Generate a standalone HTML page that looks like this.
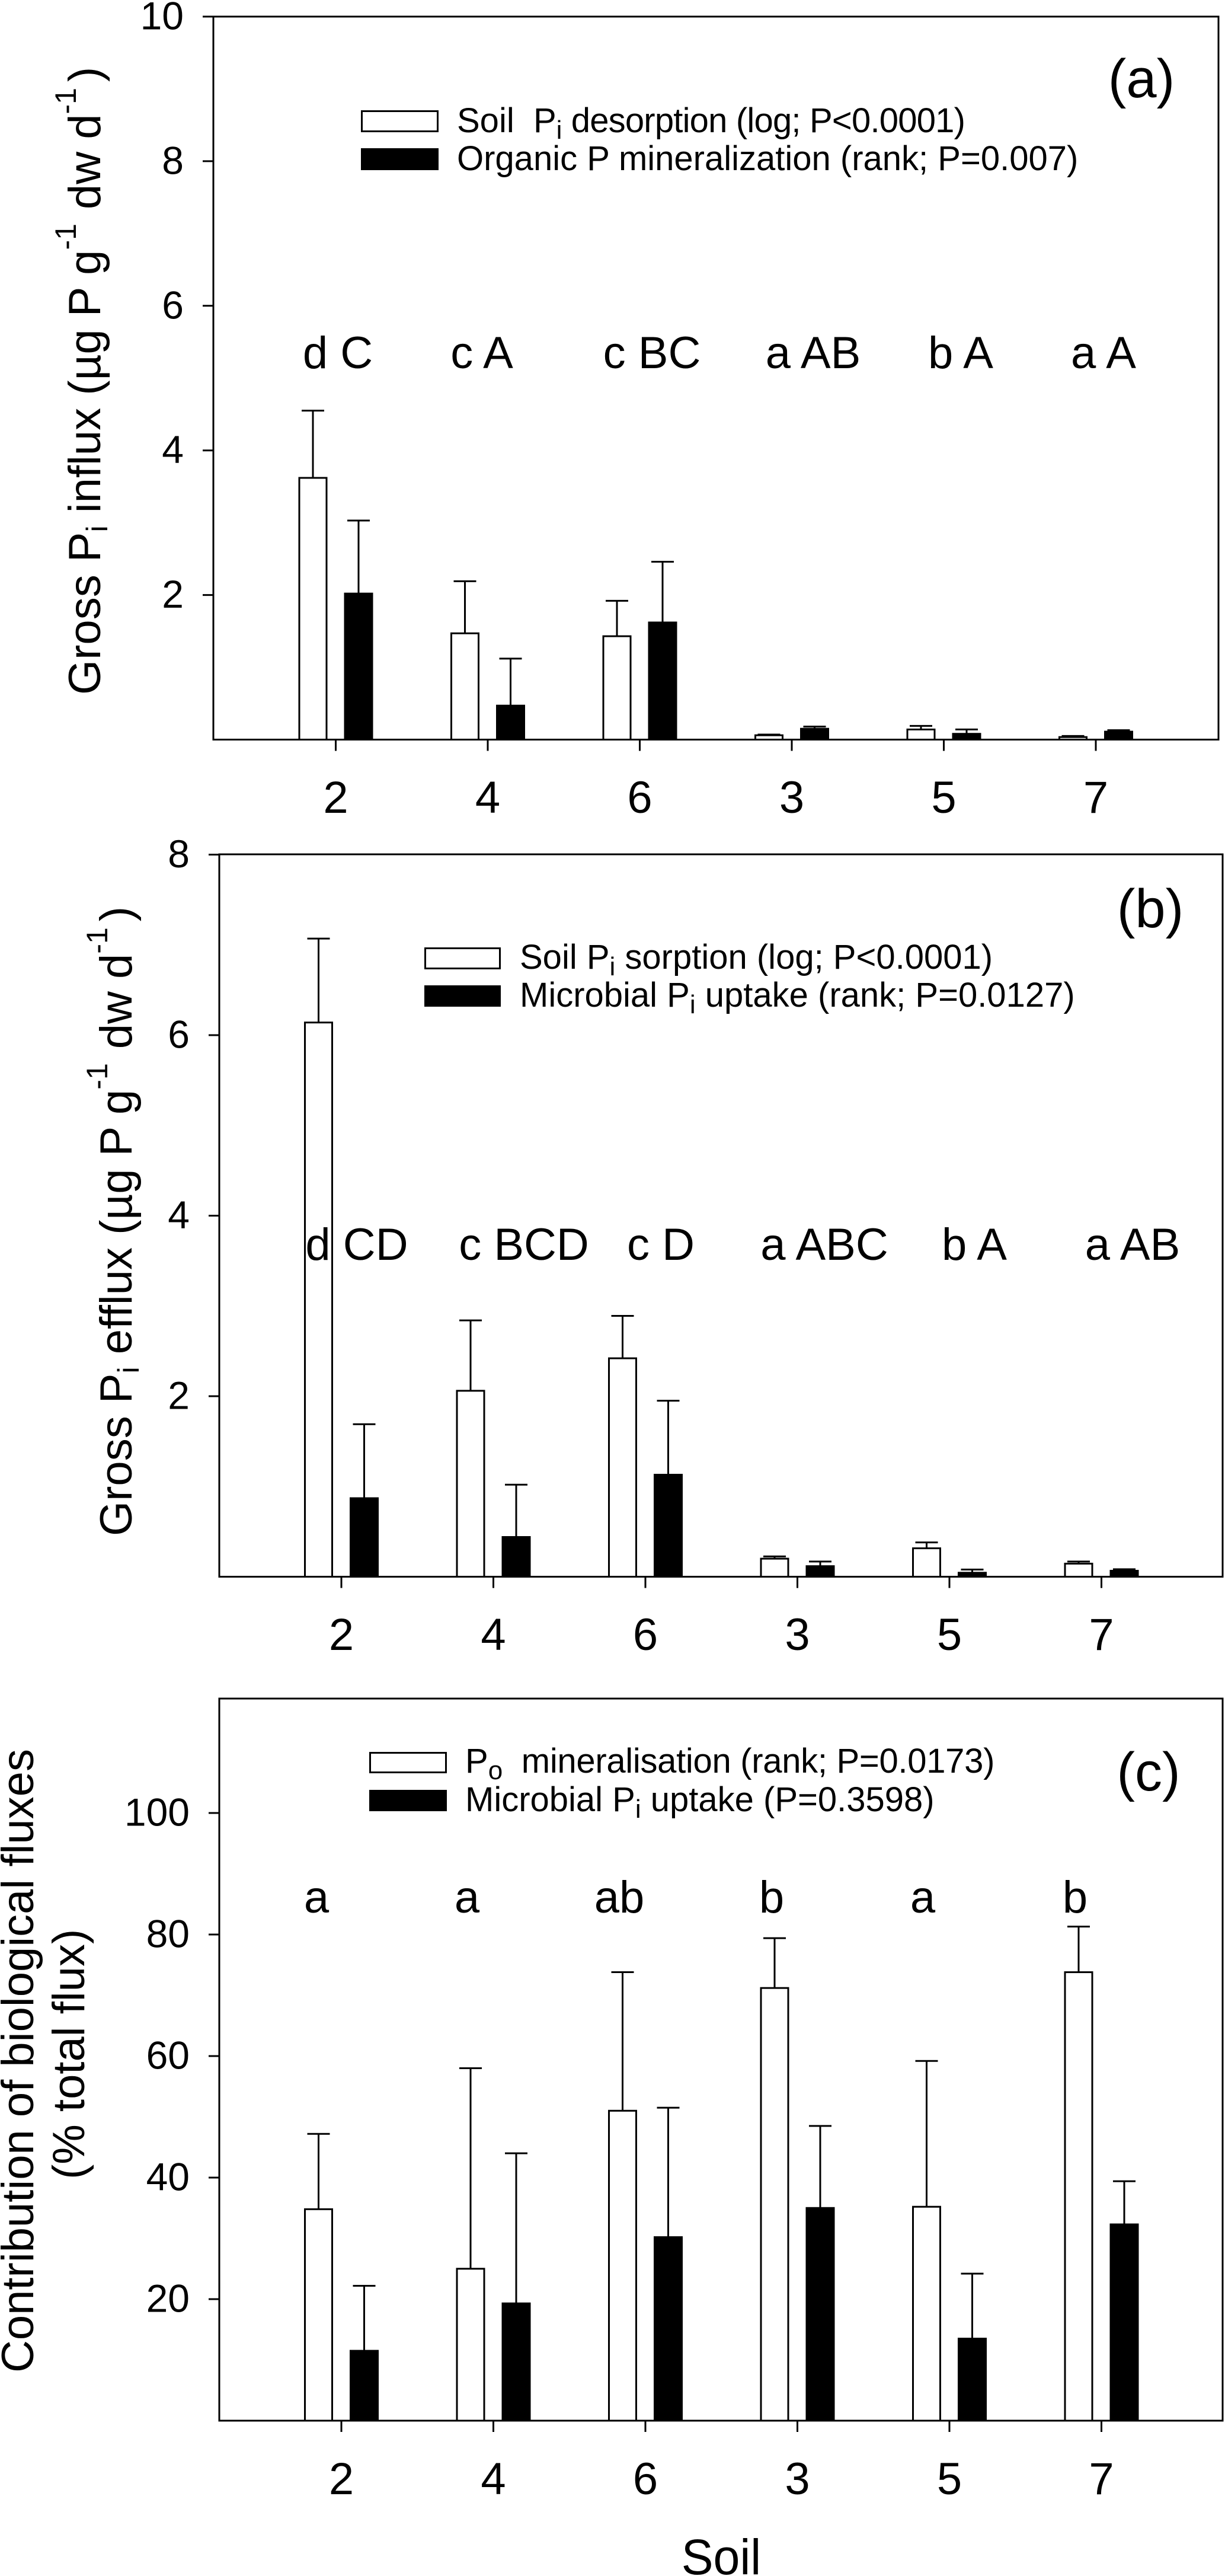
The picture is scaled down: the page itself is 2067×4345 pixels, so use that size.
<!DOCTYPE html>
<html lang="en">
<head>
<meta charset="utf-8">
<title>Gross phosphorus fluxes by soil</title>
<style>
html,body{margin:0;padding:0;background:#fff;width:2067px;height:4345px;overflow:hidden}
svg{display:block}
text{font-family:"Liberation Sans",Arial,sans-serif;fill:#000;white-space:pre}
.leg{font-size:58px}
.sig{font-size:76px;text-anchor:middle}
.tag{font-size:92px;text-anchor:middle}
.ttl{font-size:76px}
</style>
</head>
<body>
<svg id="figure" xmlns="http://www.w3.org/2000/svg" width="2067" height="4345" viewBox="0 0 2067 4345">
<rect width="2067" height="4345" fill="#fff"/>

<!-- Panel a static text -->
<g id="annotations-a">
<text class="tag" x="1926" y="164">(a)</text>
<rect x="610.5" y="187.5" width="128" height="34" fill="#fff" stroke="#000" stroke-width="3"/>
<rect x="609" y="250" width="131" height="37" fill="#000"/>
<text class="leg" x="771" y="223">Soil  P<tspan font-size="44" dy="11">i</tspan><tspan dy="-11" letter-spacing="-0.8"> desorption (log; P&lt;0.0001)</tspan></text>
<text class="leg" x="771" y="287">Organic P mineralization (rank; P=0.007)</text>
<text class="sig" x="570" y="621">d C</text>
<text class="sig" x="813" y="621">c A</text>
<text class="sig" x="1100" y="621">c BC</text>
<text class="sig" x="1372" y="621">a AB</text>
<text class="sig" x="1621" y="621">b A</text>
<text class="sig" x="1862" y="621">a A</text>
<text class="ttl" transform="translate(169,1172) rotate(-90)">Gross P<tspan font-size="50" dy="12">i</tspan><tspan dy="-12"> influx (µg P g</tspan><tspan font-size="50" dy="-41">-1</tspan><tspan dy="41" dx="24">dw d</tspan><tspan font-size="50" dy="-41">-1</tspan><tspan dy="41" dx="10">)</tspan></text>
</g>

<!-- Panel b static text -->
<g>
<text class="tag" x="1941" y="1564">(b)</text>
<rect x="717.5" y="1599.5" width="126" height="34" fill="#fff" stroke="#000" stroke-width="3"/>
<rect x="716" y="1662" width="129" height="36" fill="#000"/>
<text class="leg" x="877" y="1634">Soil P<tspan font-size="44" dy="11">i</tspan><tspan dy="-11"> sorption (log; P&lt;0.0001)</tspan></text>
<text class="leg" x="877" y="1698">Microbial P<tspan font-size="44" dy="11">i</tspan><tspan dy="-11"> uptake (rank; P=0.0127)</tspan></text>
<text class="sig" x="602" y="2125">d CD</text>
<text class="sig" x="884" y="2125">c BCD</text>
<text class="sig" x="1115" y="2125">c D</text>
<text class="sig" x="1391" y="2125">a ABC</text>
<text class="sig" x="1644" y="2125">b A</text>
<text class="sig" x="1911" y="2125">a AB</text>
<text class="ttl" transform="translate(222,2591) rotate(-90)">Gross P<tspan font-size="50" dy="12">i</tspan><tspan dy="-12"> efflux (µg P g</tspan><tspan font-size="50" dy="-41">-1</tspan><tspan dy="41" dx="24">dw d</tspan><tspan font-size="50" dy="-41">-1</tspan><tspan dy="41" dx="10">)</tspan></text>
</g>

<!-- Panel c static text -->
<g>
<text class="tag" x="1938" y="3020">(c)</text>
<rect x="624.5" y="2956.5" width="128" height="33" fill="#fff" stroke="#000" stroke-width="3"/>
<rect x="623" y="3019" width="131" height="36" fill="#000"/>
<text class="leg" x="785" y="2990">P<tspan font-size="44" dy="11">o</tspan><tspan dy="-11" letter-spacing="-0.3">  mineralisation (rank; P=0.0173)</tspan></text>
<text class="leg" x="785" y="3055">Microbial P<tspan font-size="44" dy="11">i</tspan><tspan dy="-11"> uptake (P=0.3598)</tspan></text>
<text class="sig" x="534" y="3226">a</text>
<text class="sig" x="788" y="3226">a</text>
<text class="sig" x="1045" y="3226">ab</text>
<text class="sig" x="1302" y="3226">b</text>
<text class="sig" x="1557" y="3226">a</text>
<text class="sig" x="1814" y="3226">b</text>
<text class="ttl" transform="translate(56,4002) rotate(-90)">Contribution of biological fluxes</text>
<text class="ttl" transform="translate(142,3676) rotate(-90)">(% total flux)</text>
<text transform="translate(1217,4342) scale(0.96,1)" font-size="84" text-anchor="middle">Soil</text>
</g>
</svg>

<script>
const soils = ['2', '4', '6', '3', '5', '7'];

const ticksA = [2, 4, 6, 8, 10];
const desorption = [3.62, 1.47, 1.43, 0.06, 0.14, 0.035];
const desorptionTop = [4.55, 2.19, 1.92, 0.07, 0.19, 0.05];
const mineralization = [2.02, 0.47, 1.62, 0.15, 0.08, 0.11];
const mineralizationTop = [3.03, 1.12, 2.46, 0.18, 0.14, 0.13];

const ticksB = [2, 4, 6, 8];
const sorption = [6.14, 2.06, 2.42, 0.2, 0.315, 0.145];
const sorptionTop = [7.07, 2.84, 2.89, 0.225, 0.38, 0.168];
const uptakeB = [0.87, 0.44, 1.13, 0.117, 0.044, 0.066];
const uptakeBTop = [1.69, 1.02, 1.95, 0.168, 0.08, 0.083];

const ticksC = [20, 40, 60, 80, 100];
const mineralisationPct = [34.8, 25, 51, 71.2, 35.2, 73.8];
const mineralisationPctTop = [47.2, 58, 73.8, 79.4, 59.2, 81.3];
const uptakePct = [11.5, 19.3, 30.2, 35, 13.5, 32.3];
const uptakePctTop = [22.2, 44, 51.5, 48.5, 24.2, 39.4];

const NS = 'http://www.w3.org/2000/svg';
const figure = document.getElementById('figure');
const firstAnnotations = document.getElementById('annotations-a');

function make(tag, attrs, parent) {
  const el = document.createElementNS(NS, tag);
  for (const k in attrs) el.setAttribute(k, attrs[k]);
  parent.appendChild(el);
  return el;
}

function drawSeries(panel, g, key, values, tops, filled, sign) {
  values.forEach(function (v, i) {
    const cx = panel.x(i) + sign * 38.5;
    const y0 = panel.y(0);
    const yv = panel.y(v);
    const yt = panel.y(tops[i]);

    const stem = make('line', {x1: cx, x2: cx, y1: yv, y2: yt, stroke: '#000', 'stroke-width': 3}, g);
    
    

    const cap = make('line', {x1: cx - 19, x2: cx + 19, y1: yt, y2: yt, stroke: '#000', 'stroke-width': 3}, g);
    
    

    const bar = make('rect', {
      x: cx - 23, y: yv, width: 46, height: y0 - yv,
      fill: filled ? '#000' : '#fff', stroke: '#000', 'stroke-width': 3
    }, g);
    
    
  });
}

function drawPanel(cfg) {
  const g = document.createElementNS(NS, 'g');
  figure.insertBefore(g, firstAnnotations);
  
  

  const panel = {
    x: function (i) { return cfg.firstTick + i * 256.5; },
    y: function (v) { return cfg.zeroY - v * cfg.pxPerUnit; }
  };

  drawSeries(panel, g, cfg.keys[0], cfg.white, cfg.whiteTop, false, -1);
  drawSeries(panel, g, cfg.keys[1], cfg.black, cfg.blackTop, true, 1);

  const frame = make('rect', {
    x: cfg.left, y: cfg.top, width: cfg.right - cfg.left, height: cfg.zeroY - cfg.top,
    fill: 'none', stroke: '#000', 'stroke-width': 3
  }, g);
  
  

  cfg.ticks.forEach(function (t) {
    const yy = panel.y(t);
    const tick = make('line', {x1: cfg.left - 18, x2: cfg.left, y1: yy, y2: yy, stroke: '#000', 'stroke-width': 3}, g);
    
    

    const label = make('text', {x: cfg.left - cfg.labelGap, y: yy + 21.5, 'font-size': 66, 'text-anchor': 'end'}, g);
    label.textContent = String(t);
    
    
  });

  soils.forEach(function (s, i) {
    const xx = panel.x(i);
    const tick = make('line', {x1: xx, x2: xx, y1: cfg.zeroY, y2: cfg.zeroY + 19, stroke: '#000', 'stroke-width': 3}, g);
    
    

    const label = make('text', {x: xx, y: cfg.xLabelY, 'font-size': 76, 'text-anchor': 'middle'}, g);
    label.textContent = s;
    
    
  });
}

drawPanel({
  id: 'a', keys: ['desorption', 'mineralization'],
  white: desorption, whiteTop: desorptionTop, black: mineralization, blackTop: mineralizationTop,
  ticks: ticksA, left: 360, right: 2056, top: 28, zeroY: 1247.5, pxPerUnit: 121.95,
  firstTick: 566.5, labelGap: 50, xLabelY: 1371
});
drawPanel({
  id: 'b', keys: ['sorption', 'uptake'],
  white: sorption, whiteTop: sorptionTop, black: uptakeB, blackTop: uptakeBTop,
  ticks: ticksB, left: 370, right: 2063, top: 1441, zeroY: 2659.5, pxPerUnit: 152.25,
  firstTick: 576, labelGap: 50, xLabelY: 2783
});
drawPanel({
  id: 'c', keys: ['mineralisation', 'uptake'],
  white: mineralisationPct, whiteTop: mineralisationPctTop, black: uptakePct, blackTop: uptakePctTop,
  ticks: ticksC, left: 370, right: 2063, top: 2865, zeroY: 4083, pxPerUnit: 10.25,
  firstTick: 576, labelGap: 50, xLabelY: 4207
});
</script>
</body>
</html>
